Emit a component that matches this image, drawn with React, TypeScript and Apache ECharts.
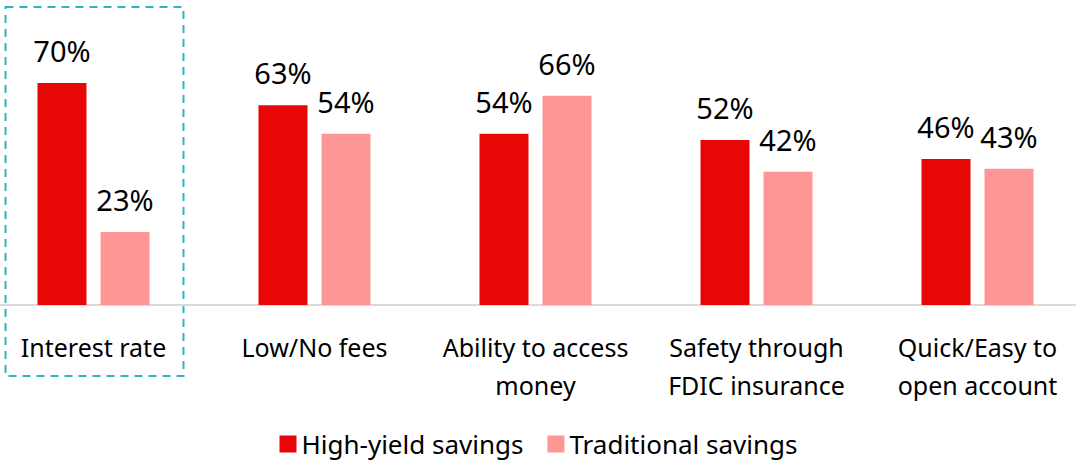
import React, { useEffect, useRef } from "react";
import * as echarts from "echarts";

const categories = [
  "Interest rate",
  "Low/No fees",
  "Ability to access\nmoney",
  "Safety through\nFDIC insurance",
  "Quick/Easy to\nopen account",
];
const highYield = [70, 63, 54, 52, 46];
const traditional = [23, 54, 66, 42, 43];

const FONT = "Noto Sans";
const OFFSET = 17.5;

export default function App() {
  const ref = useRef<HTMLDivElement>(null);
  useEffect(() => {
    const chart = echarts.init(ref.current!, null, { renderer: "svg" });
    const label = {
      show: true,
      position: "top",
      distance: 18,
      formatter: "{c}%",
      color: "#000",
      fontSize: 29,
      fontFamily: FONT,
    };
    chart.setOption({
      animation: false,
      grid: { left: 0, width: 1105, top: 51.3, height: 253.7 },
      xAxis: {
        type: "category",
        data: categories,
        axisLine: { lineStyle: { color: "#d9d9d9", width: 2 } },
        axisTick: { show: false },
        axisLabel: {
          color: "#000",
          fontSize: 25,
          fontFamily: FONT,
          lineHeight: 38,
          margin: 23,
          interval: 0,
        },
      },
      yAxis: { type: "value", min: 0, max: 80, show: false, splitLine: { show: false } },
      legend: {
        top: 426,
        left: 274 + OFFSET,
        itemWidth: 17,
        itemHeight: 17,
        itemGap: 24,
        icon: "rect",
        textStyle: { fontSize: 26, fontFamily: FONT, color: "#000" },
        data: ["High-yield savings", "Traditional savings"],
      },
      graphic: [
        {
          type: "rect",
          shape: { x: 5 + OFFSET, y: 7, width: 178, height: 369 },
          style: { fill: "none", stroke: "#2BB5C0", lineWidth: 2, lineDash: [8, 6] },
          silent: true,
        },
      ],
      series: [
        {
          name: "High-yield savings",
          type: "bar",
          data: highYield,
          barWidth: 49,
          barGap: "28.6%",
          itemStyle: { color: "#E80707" },
          label,
        },
        {
          name: "Traditional savings",
          type: "bar",
          data: traditional,
          barWidth: 49,
          barGap: "28.6%",
          itemStyle: { color: "#FF9696" },
          label,
        },
      ],
    });
    return () => chart.dispose();
  }, []);
  return (
    <div
      style={{
        position: "fixed",
        left: 0,
        top: 0,
        width: 1076,
        height: 462,
        overflow: "hidden",
        background: "#fff",
      }}
    >
      <div
        ref={ref}
        style={{ position: "absolute", left: -OFFSET, top: 0, width: 1105, height: 462 }}
      />
    </div>
  );
}
